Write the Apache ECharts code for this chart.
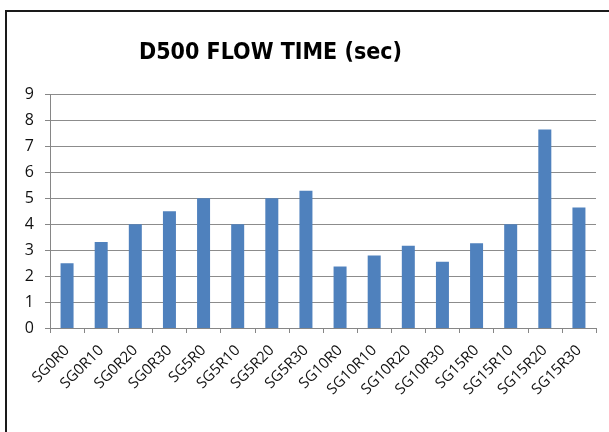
<!DOCTYPE html>
<html><head><meta charset="utf-8">
<script src="https://cdn.jsdelivr.net/npm/echarts@6/dist/echarts.min.js"></script>
<style>html,body{margin:0;padding:0;background:#fff}#c{width:609px;height:432px}</style>
</head><body><div id="c"></div>
<script>
const categories = ["SG0R0","SG0R10","SG0R20","SG0R30","SG5R0","SG5R10","SG5R20","SG5R30","SG10R0","SG10R10","SG10R20","SG10R30","SG15R0","SG15R10","SG15R20","SG15R30"];
const flowTime = [2.5,3.31,4.0,4.5,5.0,4.0,5.0,5.29,2.37,2.79,3.17,2.55,3.27,4.0,7.65,4.64];
const titleText = "D500 FLOW TIME (sec)";
const chart = echarts.init(document.getElementById('c'));
chart.setOption({
  animation:false,
  title:{text:titleText,left:134,top:37,textStyle:{fontFamily:'DejaVu Sans Condensed',fontWeight:'bold',fontSize:23,color:'#000'}},
  grid:{left:50,right:13,top:94.5,bottom:104},
  xAxis:{type:'category',data:categories,
    axisLine:{lineStyle:{color:'#868686'}},
    axisTick:{show:true,length:5,lineStyle:{color:'#868686'}},
    axisLabel:{rotate:45,interval:0,fontFamily:'Open Sans',fontSize:15,color:'#111',margin:20}},
  yAxis:{type:'value',min:0,max:9,interval:1,
    axisLine:{show:true,lineStyle:{color:'#868686'}},
    axisTick:{show:true,length:5,lineStyle:{color:'#868686'}},
    splitLine:{lineStyle:{color:'#8c8c8c'}},
    axisLabel:{fontFamily:'Open Sans',fontSize:16,color:'#111',margin:16}},
  series:[{type:'bar',data:flowTime,barWidth:13,itemStyle:{color:'#4f81bd'}}],
  graphic:[
    {type:'line',shape:{x1:5,y1:11,x2:609,y2:11},style:{stroke:'#1a1a1a',lineWidth:2}},
    {type:'line',shape:{x1:6,y1:10,x2:6,y2:432},style:{stroke:'#1a1a1a',lineWidth:2}}
  ]
});
</script></body></html>
